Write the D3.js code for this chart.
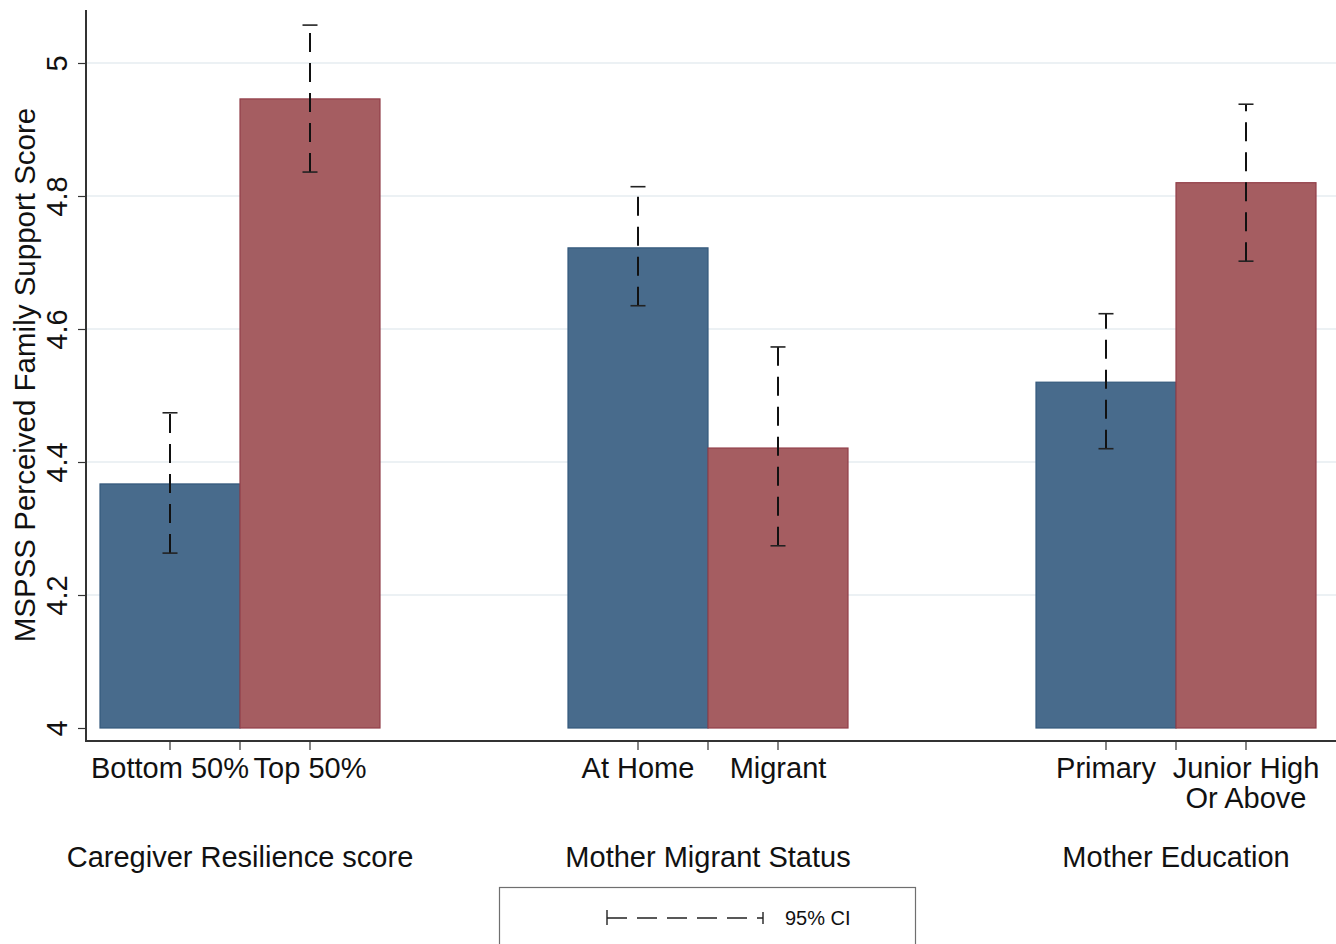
<!DOCTYPE html>
<html>
<head>
<meta charset="utf-8">
<script src="https://cdn.jsdelivr.net/npm/d3@7"></script>
<style>
  html, body { margin: 0; padding: 0; background: #ffffff; }
  svg { display: block; font-family: "Liberation Sans", Arial, Helvetica, sans-serif; }
</style>
</head>
<body>
<svg id="chart" width="1336" height="944"></svg>
<script>
// Groups along the x axis and the two levels shown within each group
const groups = ["Caregiver Resilience score", "Mother Migrant Status", "Mother Education"];
const levelLabels = [
  ["Bottom 50%", "Top 50%"],
  ["At Home", "Migrant"],
  ["Primary", "Junior High\nOr Above"]
];

// Mean MSPSS family support score per level (first / second level of each group)
const meanFirst  = [4.367, 4.722, 4.520];
const meanSecond = [4.946, 4.421, 4.820];

// 95% confidence interval bounds
const ciLowFirst   = [4.263, 4.635, 4.420];
const ciHighFirst  = [4.474, 4.814, 4.623];
const ciLowSecond  = [4.836, 4.274, 4.702];
const ciHighSecond = [5.057, 4.573, 4.938];

const yTicks = [4, 4.2, 4.4, 4.6, 4.8, 5];
const yTitle = "MSPSS Perceived Family Support Score";
const legendLabel = "95% CI";

const levelKeys = ["first", "second"];
const fills   = { first: "#486b8c", second: "#a55d61" };
const strokes = { first: "#34597c", second: "#923f49" };

const rows = [];
groups.forEach((g, i) => {
  rows.push({ gi: i, key: "first",  label: levelLabels[i][0], mean: meanFirst[i],  lo: ciLowFirst[i],  hi: ciHighFirst[i] });
  rows.push({ gi: i, key: "second", label: levelLabels[i][1], mean: meanSecond[i], lo: ciLowSecond[i], hi: ciHighSecond[i] });
});

const svg = d3.select("#chart");

// Scales
const y = d3.scaleLinear().domain([4, 5]).range([728, 63]);
const xGroup = d3.scaleLinear().domain([0, groups.length - 1]).range([240, 1176]);
const xLevel = d3.scaleBand().domain(levelKeys).range([-140, 140]).paddingInner(0);
const barX = d => xGroup(d.gi) + xLevel(d.key);
const barMid = d => barX(d) + xLevel.bandwidth() / 2;

const axisX = 86, axisY = 741, plotRight = 1336, plotTop = 10;

// Horizontal grid lines
svg.append("g")
  .selectAll("line")
  .data(yTicks.filter(t => t > 4))
  .join("line")
  .attr("x1", axisX).attr("x2", plotRight)
  .attr("y1", d => y(d)).attr("y2", d => y(d))
  .attr("stroke", "#e6edf1").attr("stroke-width", 1.5);

// Bars
svg.append("g")
  .selectAll("rect")
  .data(rows)
  .join("rect")
  .attr("x", d => barX(d))
  .attr("width", xLevel.bandwidth())
  .attr("y", d => y(d.mean))
  .attr("height", d => y(4) - y(d.mean))
  .attr("fill", d => fills[d.key])
  .attr("stroke", d => strokes[d.key])
  .attr("stroke-width", 1.2);

// Confidence-interval whiskers: dashed line, drawn from the lower bound upward, with caps
const ci = svg.append("g");
ci.selectAll("line.whisker")
  .data(rows)
  .join("line")
  .attr("class", "whisker")
  .attr("x1", d => barMid(d)).attr("x2", d => barMid(d))
  .attr("y1", d => y(d.lo)).attr("y2", d => y(d.hi))
  .attr("stroke", "#111").attr("stroke-width", 2)
  .attr("stroke-dasharray", "19,11");
["lo", "hi"].forEach(k => {
  ci.selectAll("line.cap-" + k)
    .data(rows)
    .join("line")
    .attr("class", "cap-" + k)
    .attr("x1", d => barMid(d) - 7.5).attr("x2", d => barMid(d) + 7.5)
    .attr("y1", d => y(d[k])).attr("y2", d => y(d[k]))
    .attr("stroke", "#222").attr("stroke-width", 1.6);
});

// Y axis
const yAxis = d3.axisLeft(y).tickValues(yTicks).tickSize(8).tickPadding(0).tickFormat(d3.format("~g"));
const yg = svg.append("g").attr("transform", `translate(${axisX},0)`).call(yAxis);
yg.select(".domain").remove();
yg.selectAll(".tick line").attr("stroke", "#333").attr("stroke-width", 1.2);
yg.selectAll(".tick text")
  .attr("x", null).attr("dy", null)
  .attr("transform", "translate(-19,0) rotate(-90)")
  .attr("text-anchor", "middle")
  .attr("fill", "#111")
  .style("font-size", "29px")
  .style("font-family", "'Liberation Sans', Arial, sans-serif");
svg.append("line")
  .attr("x1", axisX).attr("x2", axisX)
  .attr("y1", plotTop).attr("y2", axisY + 1)
  .attr("stroke", "#333").attr("stroke-width", 2);

// Y axis title
svg.append("text")
  .attr("transform", `translate(35,375) rotate(-90)`)
  .attr("text-anchor", "middle")
  .attr("fill", "#111")
  .style("font-size", "29.5px")
  .text(yTitle);

// X axis line
svg.append("line")
  .attr("x1", axisX - 1).attr("x2", plotRight)
  .attr("y1", axisY).attr("y2", axisY)
  .attr("stroke", "#333").attr("stroke-width", 2);

// X ticks at each bar centre and at each group centre
const tickPositions = [];
rows.forEach(d => tickPositions.push(barMid(d)));
groups.forEach((g, i) => tickPositions.push(xGroup(i)));
svg.append("g")
  .selectAll("line")
  .data(tickPositions)
  .join("line")
  .attr("x1", d => d).attr("x2", d => d)
  .attr("y1", axisY).attr("y2", axisY + 9)
  .attr("stroke", "#333").attr("stroke-width", 1.2);

// Level labels (may span two lines)
const lvl = svg.append("g")
  .selectAll("text")
  .data(rows)
  .join("text")
  .attr("x", d => barMid(d))
  .attr("y", 778)
  .attr("text-anchor", "middle")
  .attr("fill", "#111")
  .style("font-size", "29px");
lvl.selectAll("tspan")
  .data(d => d.label.split("\n").map(s => ({ s, x: barMid(d) })))
  .join("tspan")
  .attr("x", t => t.x)
  .attr("dy", (t, i) => i === 0 ? 0 : 30)
  .text(t => t.s);

// Group labels
svg.append("g")
  .selectAll("text")
  .data(groups)
  .join("text")
  .attr("x", (d, i) => xGroup(i))
  .attr("y", 867)
  .attr("text-anchor", "middle")
  .attr("fill", "#111")
  .style("font-size", "29px")
  .text(d => d);

// Legend
const lg = svg.append("g");
lg.append("rect")
  .attr("x", 499.5).attr("y", 887.5)
  .attr("width", 416).attr("height", 70)
  .attr("fill", "#fff").attr("stroke", "#6f6f6f").attr("stroke-width", 1.2);
const ly = 918, lx1 = 607, lx2 = 763;
lg.append("line")
  .attr("x1", lx1).attr("x2", lx2).attr("y1", ly).attr("y2", ly)
  .attr("stroke", "#222").attr("stroke-width", 1.4)
  .attr("stroke-dasharray", "20,10");
lg.append("line")
  .attr("x1", lx1).attr("x2", lx1).attr("y1", ly - 8).attr("y2", ly + 7)
  .attr("stroke", "#222").attr("stroke-width", 1.4);
lg.append("line")
  .attr("x1", lx2).attr("x2", lx2).attr("y1", ly - 6).attr("y2", ly + 6)
  .attr("stroke", "#222").attr("stroke-width", 1.4);
lg.append("text")
  .attr("x", 785).attr("y", 925)
  .attr("fill", "#111")
  .style("font-size", "20px")
  .text(legendLabel);
</script>
</body>
</html>
